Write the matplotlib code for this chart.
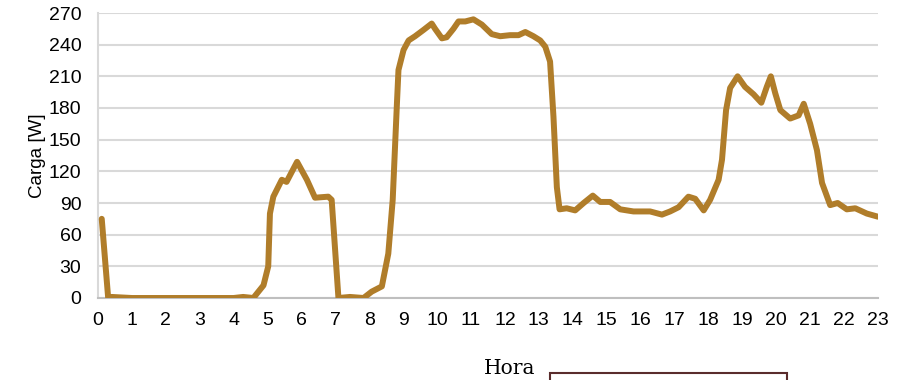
import matplotlib.pyplot as plt
from matplotlib.patches import Rectangle

plt.rcParams['font.family'] = ['Liberation Sans', 'DejaVu Sans']

# Perfil de carga ao longo do dia
hora = [0.11, 0.30, 0.40, 1.0, 2.0, 3.0, 4.0, 4.28, 4.58, 4.88, 5.02, 5.07, 5.17,
        5.42, 5.56, 5.87, 6.16, 6.40, 6.79, 6.89, 7.09, 7.43, 7.83, 8.07, 8.37,
        8.56, 8.69, 8.81, 8.86, 9.01, 9.16, 9.35, 9.60, 9.84, 9.94, 10.14, 10.28,
        10.48, 10.63, 10.83, 11.07, 11.32, 11.61, 11.86, 12.15, 12.40, 12.60,
        12.84, 13.04, 13.19, 13.33, 13.43, 13.53, 13.61, 13.82, 14.07, 14.32,
        14.59, 14.81, 15.10, 15.40, 15.79, 16.28, 16.63, 16.87, 17.12, 17.41,
        17.61, 17.86, 18.05, 18.30, 18.40, 18.52, 18.64, 18.86, 19.08, 19.33,
        19.56, 19.72, 19.84, 19.97, 20.12, 20.41, 20.66, 20.81, 21.00, 21.20,
        21.35, 21.59, 21.81, 22.08, 22.33, 22.67, 23.0]
carga = [75, 0, 1, 0, 0, 0, 0, 1, 0, 12, 30, 80, 96,
         112, 110, 129, 112, 95, 96, 93, 0, 1, 0, 6, 11,
         42, 93, 181, 216, 235, 244, 248, 254, 260, 255, 246, 247,
         255, 262, 262, 264, 259, 250, 248, 249, 249, 252,
         248, 244, 238, 224, 172, 105, 84, 85, 83, 90,
         97, 91, 91, 84, 82, 82, 79, 82, 86, 96,
         94, 83, 93, 112, 131, 178, 199, 210, 200, 193,
         185, 200, 210, 194, 178, 170, 173, 184, 165, 140,
         109, 88, 90, 84, 85, 80, 77]

ticks_x = list(range(0, 24))
ticks_y = list(range(0, 271, 30))

fig = plt.figure(figsize=(9.01, 3.80), dpi=100)
ax = fig.add_axes([98/901, 1 - 298/380, 780/901, 285/380])

ax.plot(hora, carga, color='#b07d2a', linewidth=4.3,
        solid_joinstyle='round', solid_capstyle='round', zorder=3)

ax.set_xlim(0, 23)
ax.set_ylim(0, 270)
ax.set_xticks(ticks_x)
ax.set_yticks(ticks_y)
ax.set_xticklabels([str(t) for t in ticks_x])
ax.set_yticklabels([str(t) for t in ticks_y])
ax.tick_params(axis='both', length=0, labelsize=14)
ax.tick_params(axis='x', pad=10)
ax.tick_params(axis='y', pad=12)

ax.grid(True, axis='y', color='#d9d9d9', linewidth=1.5)
ax.set_axisbelow(True)
for s in ['top', 'right']:
    ax.spines[s].set_visible(False)
ax.spines['left'].set_color('#d9d9d9')
ax.spines['left'].set_linewidth(1.5)
ax.spines['bottom'].set_color('#bfbfbf')
ax.spines['bottom'].set_linewidth(1.5)

ax.set_ylabel('Carga [W]', fontsize=13.5, labelpad=2)
fig.text(510/901, 1 - 368/380, 'Hora', fontsize=14.5, family='DejaVu Serif',
         ha='center', va='center')

# caixa cortada na parte de baixo
fig.patches.append(Rectangle((550/901, -0.05), 237/901, 0.05 + 7/380,
                             transform=fig.transFigure, fill=False,
                             edgecolor='#5a2c2c', linewidth=1.5))

fig.savefig('out.png', dpi=100)
